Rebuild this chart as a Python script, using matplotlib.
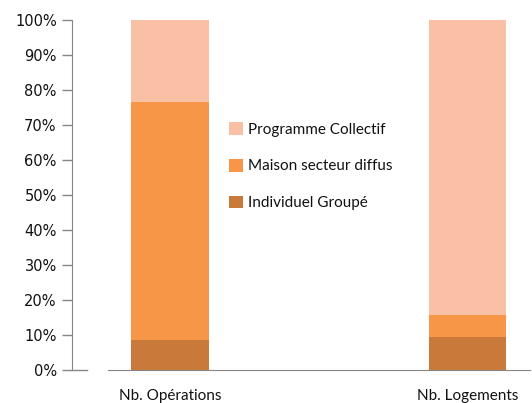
import matplotlib
matplotlib.use("Agg")
import matplotlib.pyplot as plt
from matplotlib.patches import Patch
from matplotlib.ticker import FuncFormatter

categories = ["Nb. Opérations", "Nb. Logements"]
series_names = ["Individuel Groupé", "Maison secteur diffus", "Programme Collectif"]
individuel = [8.5, 9.4]
maison = [68.1, 6.3]
collectif = [23.4, 84.3]
colors = ["#C97A3A", "#F79646", "#FAC0A6"]

W, H = 532, 403
fig = plt.figure(figsize=(W / 100, H / 100), dpi=100)
ax = fig.add_axes([72 / W, 1 - 370 / H, (530 - 72) / W, (370 - 19.5) / H])

x = [0, 1]
bw = 0.26
bottom = [0.0, 0.0]
handles = []
for name, vals, c in zip(series_names, [individuel, maison, collectif], colors):
    ax.bar(x, vals, bw, bottom=bottom, color=c, edgecolor="none")
    bottom = [b + v for b, v in zip(bottom, vals)]
    handles.append(Patch(facecolor=c, edgecolor="none", label=name))

ax.set_xlim(-0.33, 1.21)
ax.set_ylim(0, 100)
ax.set_yticks(range(0, 101, 10))
ax.yaxis.set_major_formatter(FuncFormatter(lambda v, p: f"{int(v)}%"))
ax.tick_params(axis="y", direction="out", length=7, width=1, color="#868686",
               labelsize=10.5, labelcolor="#111111", pad=4)
ax.set_xticks(x)
ax.set_xticklabels(categories, fontfamily="Lato", fontsize=11, color="#111111")
ax.tick_params(axis="x", length=0, pad=14)

for s in ["top", "right"]:
    ax.spines[s].set_visible(False)
ax.spines["left"].set_color("#868686")
ax.spines["bottom"].set_color("#868686")
# bottom axis line starts slightly right of the y-axis
x0 = -0.33 + (108 - 72) / 297
ax.spines["bottom"].set_bounds(x0, 1.21)
ax.plot([0, (87 - 72) / (530 - 72)], [0, 0], transform=ax.transAxes,
        color="#868686", lw=1, clip_on=False)

leg = ax.legend(handles=handles[::-1], loc="upper left",
                bbox_to_anchor=(223 / W, 1 - 116 / H), bbox_transform=fig.transFigure,
                frameon=False, prop={"family": "Lato", "size": 11},
                handlelength=0.9, handleheight=0.9, handletextpad=0.35,
                labelspacing=1.45, borderaxespad=0)
for t in leg.get_texts():
    t.set_color("#111111")

fig.savefig("out.png", dpi=100)
